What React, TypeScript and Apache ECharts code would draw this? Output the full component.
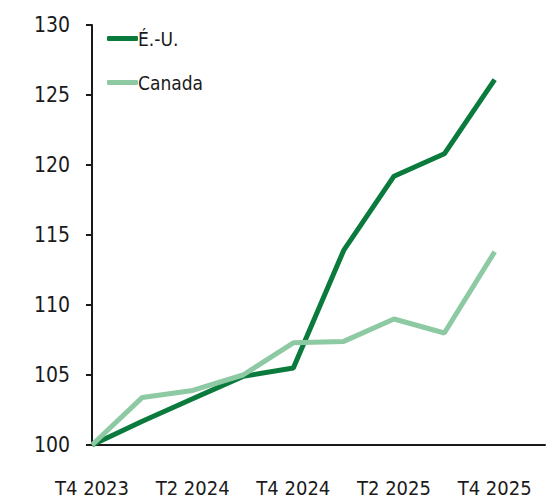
import React, { useEffect, useRef } from "react";
import * as echarts from "echarts";

// Quarterly index, T4 2023 = 100
const quarters = [
  "T4 2023",
  "T1 2024",
  "T2 2024",
  "T3 2024",
  "T4 2024",
  "T1 2025",
  "T2 2025",
  "T3 2025",
  "T4 2025",
  "T1 2026",
];
const usValues = [100, 101.7, 103.3, 104.9, 105.5, 113.9, 119.2, 120.8, 126.1, null];
const canadaValues = [100, 103.4, 103.9, 105.0, 107.3, 107.4, 109.0, 108.0, 113.8, null];
const seriesNames = ["É.-U.", "Canada"];
const yTicks = { min: 100, max: 130, interval: 5 };

const FONT = "'DejaVu Sans Condensed', 'Liberation Sans Narrow', sans-serif";
const DARK = "#0b7a3d";
const LIGHT = "#8dcaa3";
const INK = "#1a1a1a";

export default function App() {
  const ref = useRef<HTMLDivElement>(null);

  useEffect(() => {
    if (!ref.current) return;
    const chart = echarts.init(ref.current, null, { renderer: "svg" });
    chart.setOption({
      animation: false,
      backgroundColor: "#ffffff",
      grid: { left: 92, right: 11, top: 25, bottom: 58, containLabel: false },
      legend: {
        orient: "vertical",
        left: 102,
        top: 24,
        itemWidth: 31,
        itemHeight: 5,
        itemGap: 25,
        icon: "roundRect",
        data: seriesNames,
        textStyle: { fontFamily: FONT, fontSize: 19, color: INK, padding: [0, 0, 0, -5] },
      },
      xAxis: {
        type: "category",
        data: quarters,
        boundaryGap: false,
        axisLine: { show: true, lineStyle: { color: INK, width: 2 } },
        axisTick: { show: false },
        axisLabel: {
          interval: (i: number) => i % 2 === 0 && i < quarters.length - 1,
          margin: 33,
          fontFamily: FONT,
          fontSize: 20,
          color: INK,
        },
        splitLine: { show: false },
      },
      yAxis: {
        type: "value",
        min: yTicks.min,
        max: yTicks.max,
        interval: yTicks.interval,
        axisLine: { show: true, lineStyle: { color: INK, width: 2 } },
        axisTick: { show: true, inside: false, length: 6, lineStyle: { color: INK, width: 2 } },
        axisLabel: { margin: 22, fontFamily: FONT, fontSize: 21, color: INK },
        splitLine: { show: false },
      },
      series: [
        {
          name: seriesNames[0],
          type: "line",
          data: usValues,
          showSymbol: false,
          symbol: "none",
          color: DARK,
          lineStyle: { color: DARK, width: 5 },
          z: 2,
        },
        {
          name: seriesNames[1],
          type: "line",
          data: canadaValues,
          showSymbol: false,
          symbol: "none",
          color: LIGHT,
          lineStyle: { color: LIGHT, width: 5 },
          z: 3,
        },
      ],
    });
    return () => chart.dispose();
  }, []);

  return (
    <div
      ref={ref}
      style={{ position: "absolute", left: 0, top: 0, width: 556, height: 503 }}
    />
  );
}
